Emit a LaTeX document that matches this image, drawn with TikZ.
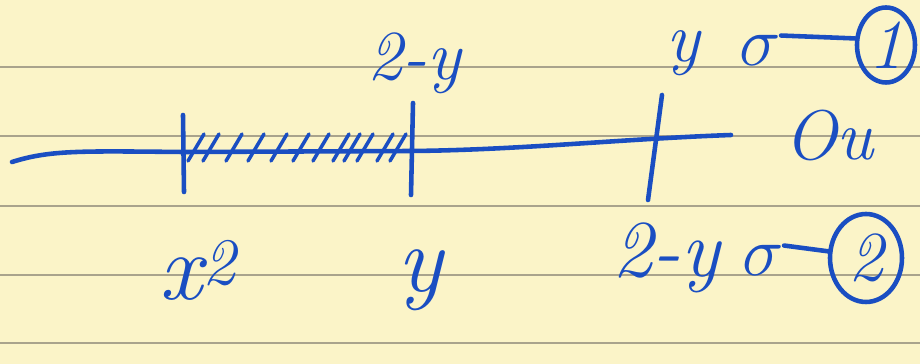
\documentclass[tikz,border=0pt]{standalone}
\usetikzlibrary{shapes.geometric}
\definecolor{paper}{HTML}{FBF4C8}
\definecolor{rule}{HTML}{A9A38C}
\definecolor{ink}{HTML}{1A4EC2}
\newcommand{\sgm}{\scalebox{1.6}{$\sigma$}}
\tikzset{
  pen/.style={ink, line width=2.6pt, line cap=round, line join=round},
  lbl/.style={text=ink, inner sep=0pt, font=\fontsize{40}{44}\selectfont\itshape},
  biglbl/.style={text=ink, inner sep=0pt, font=\fontsize{54}{58}\selectfont\itshape},
  ring/.style={draw=ink, line width=2.6pt, ellipse, inner sep=0pt}
}
\begin{document}
\begin{tikzpicture}[x=0.02cm, y=-0.02cm]
        \fill[paper] (0,0) rectangle (920,364);
        \useasboundingbox (0,0) rectangle (920,364);
        % ruled lines of the paper
        \foreach \y in {67,136,206,275,343} {
            \draw[rule, line width=0.7pt] (0,\y) -- (920,\y);
        }
        % the axis and its ticks
        \draw[pen] (12,162) .. controls (50,150) and (80,151) .. (183,152) -- (411,151)
            .. controls (520,150) and (620,139) .. (731,135);
        \draw[pen] (183,115) -- (184,192);
        \draw[pen] (413,103) -- (411,195);
        \draw[pen] (662,95) -- (648,200);
        \foreach \x in {188,203,226,248,271,293,313,333,344,357,377,390} {
            \draw[pen, line width=2pt] (\x,161) -- ++(16,-27);
        }
        % labels above the axis
        \node[lbl, anchor=base] (twoy) at (414,80) {2-y};
        \node[lbl, anchor=base] (ytop) at (683,62) {y};
        \node[lbl, anchor=base] (s1) at (760,66) {\sgm};
        \node[ring, minimum width=1.16cm, minimum height=1.5cm] (c1) at (886,45) {};
        \node[lbl] at (c1) {1};
        \draw[pen] (s1.north east) -- (c1.168);
        \node[lbl, anchor=base] (ou) at (829,160) {Ou};
        % labels below the axis
        \node[biglbl, anchor=base] (xsq) at (198,300) {x\textsuperscript{2}};
        \node[biglbl, anchor=base] (ybot) at (420,292) {y};
        \node[lbl, font=\fontsize{46}{50}\selectfont\itshape, anchor=base] (twoyb) at (666,277) {2-y};
        \node[lbl, anchor=base] (s2) at (763,276) {\sgm};
        \node[ring, minimum width=1.44cm, minimum height=1.76cm] (c2) at (866,258) {};
        \node[lbl] at (c2) {2};
        \draw[pen] (s2.north east) -- (c2.170);
\end{tikzpicture}
\end{document}
